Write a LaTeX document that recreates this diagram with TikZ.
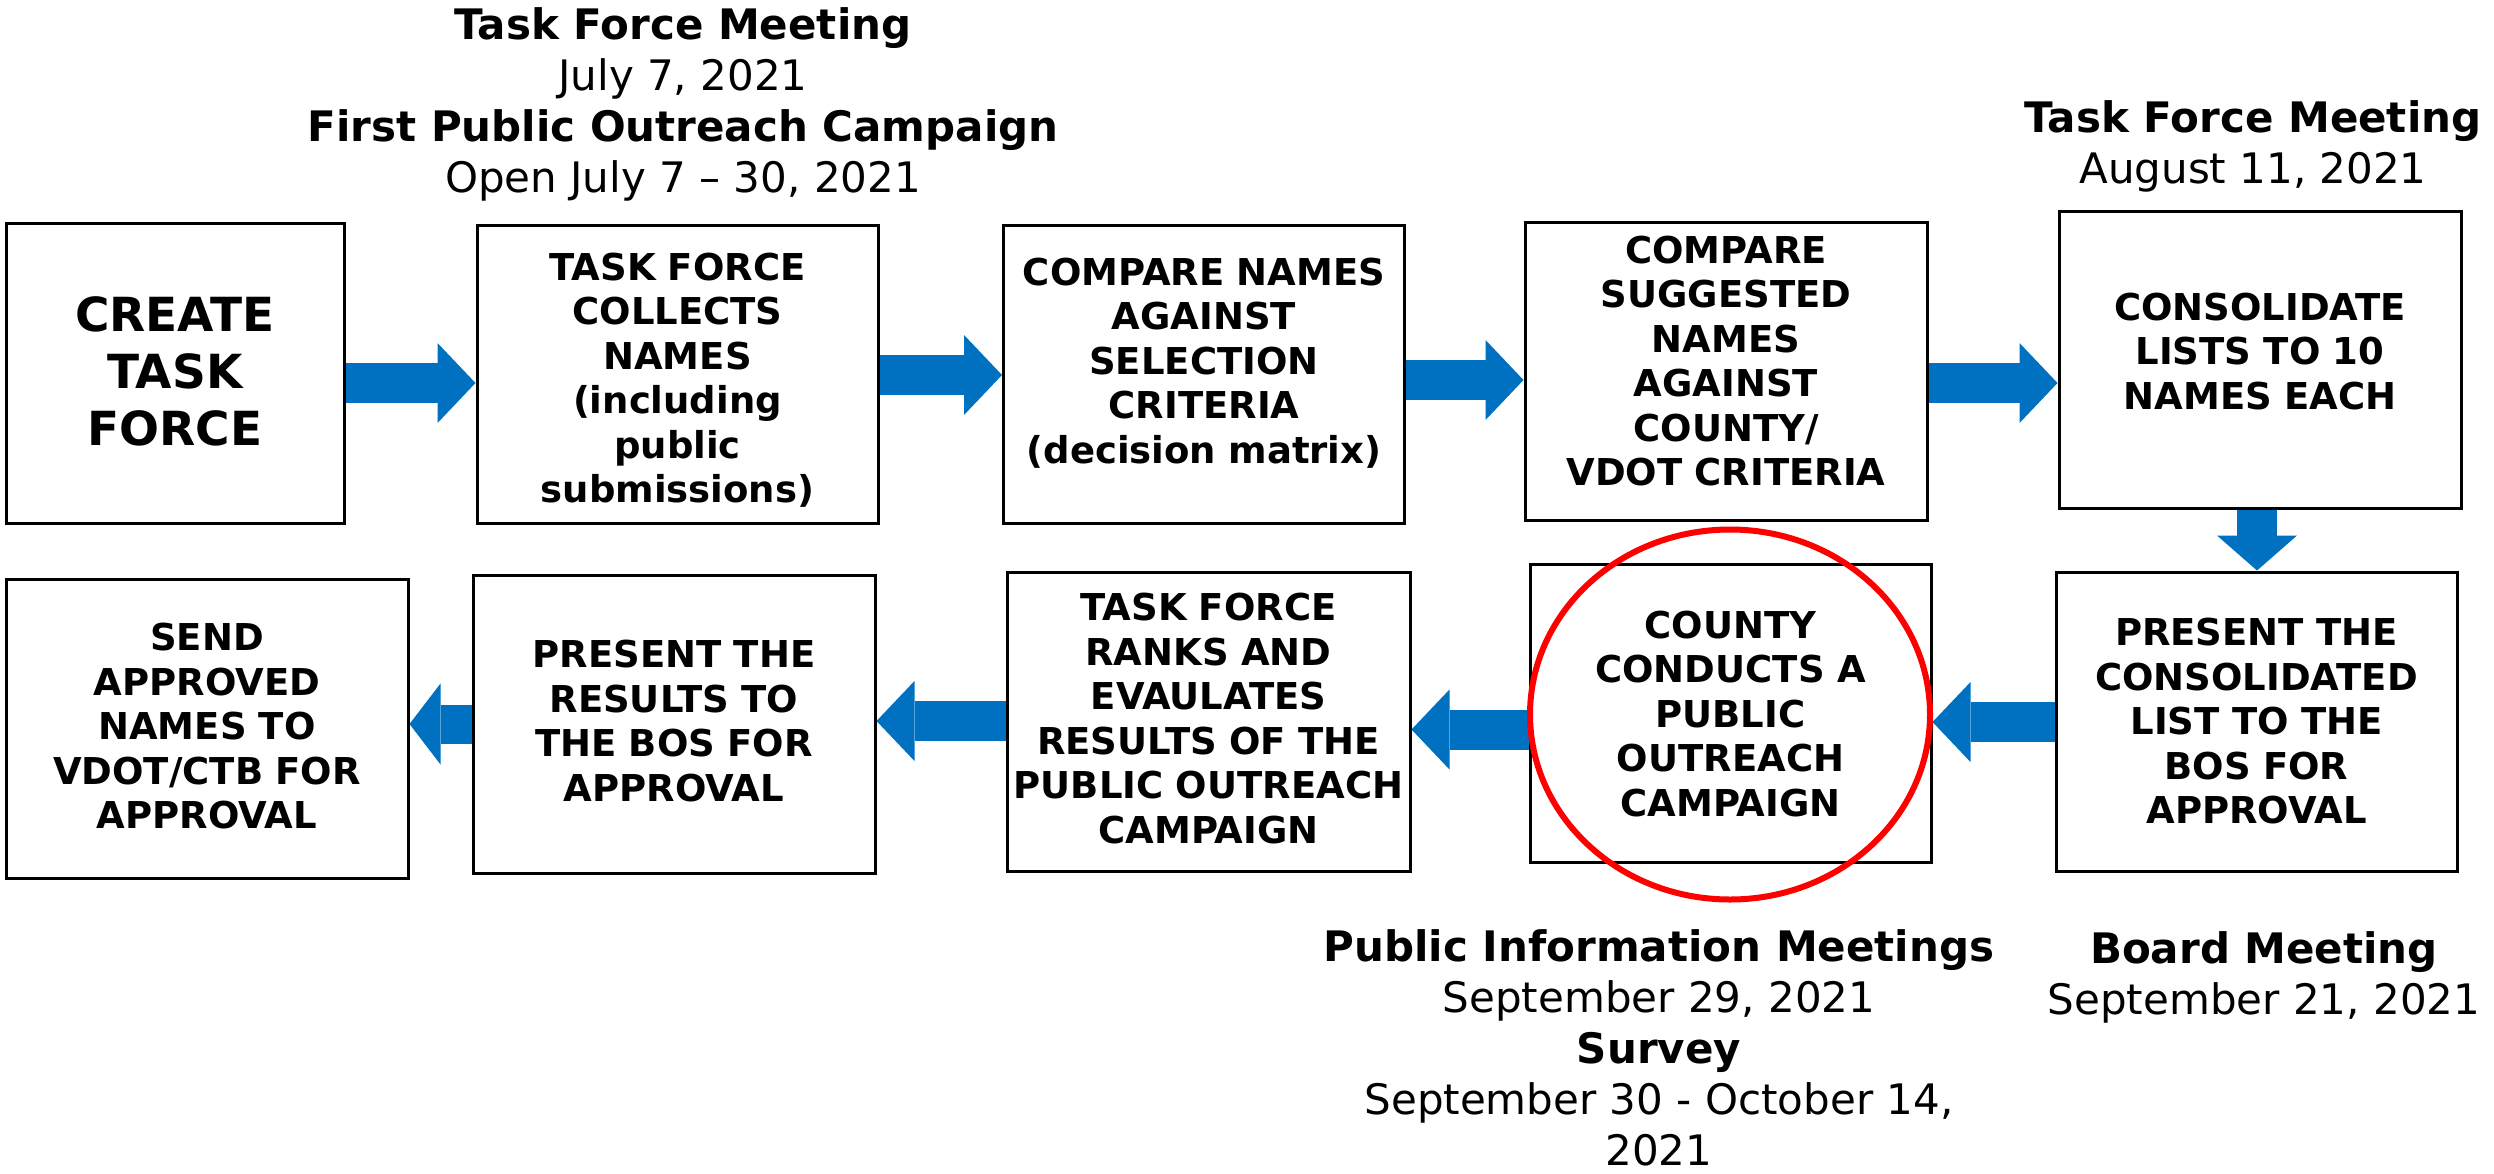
\documentclass[tikz,border=0pt]{standalone}
\usepackage{fontspec}
\setmainfont{DejaVu Sans}
\usetikzlibrary{arrows.meta,calc}
\definecolor{flowblue}{HTML}{0070C0}
\definecolor{hlred}{HTML}{FF0000}
\begin{document}
\begin{tikzpicture}[x=1pt,y=-1pt,
  box/.style={draw=black, line width=3pt, fill=white, inner sep=0pt,
    minimum width=401pt, minimum height=298pt},
  boxtext/.style={inner sep=0pt, text width=396pt, align=center,
    font={\fontsize{37}{44.5}\selectfont\bfseries}},
  bigtext/.style={inner sep=0pt, text width=320pt, align=center,
    font={\fontsize{47}{57}\selectfont\bfseries}},
  note/.style={align=center, inner sep=0pt, anchor=north,
    font={\fontsize{42}{51}\selectfont}},
  flow/.style={draw=flowblue, line width=40pt,
    -{Triangle[length=38pt, width=80pt, line width=0pt]}},
  shortflow/.style={draw=flowblue, line width=39pt,
    -{Triangle[length=31pt, width=81pt, line width=0pt]}},
  downflow/.style={draw=flowblue, line width=40pt,
    -{Triangle[length=35pt, width=80pt, line width=0pt]}}
]
\useasboundingbox (0,0) rectangle (2494,1173);

% top row
\node[box, minimum width=338pt, minimum height=300pt,
  label={[bigtext, yshift=2pt]center:{CREATE\\TASK\\FORCE}}] (b1) at (175,373) {};
\node[box,
  label={[boxtext, yshift=-6pt]center:{TASK FORCE\\COLLECTS\\NAMES\\(including\\public\\submissions)}}] (b2) at (677.5,374) {};
\node[box,
  label={[boxtext, yshift=11pt]center:{COMPARE NAMES\\AGAINST\\SELECTION\\CRITERIA\\(decision matrix)}}] (b3) at (1204,374) {};
\node[box, minimum width=402pt,
  label={[boxtext, yshift=10pt]center:{COMPARE\\SUGGESTED\\NAMES\\AGAINST\\COUNTY/\\VDOT CRITERIA}}] (b4) at (1726,371) {};
\node[box, minimum width=402pt, minimum height=297pt,
  label={[boxtext, yshift=8pt]center:{CONSOLIDATE\\LISTS TO 10\\NAMES EACH}}] (b5) at (2260,359.5) {};

% bottom row
\node[box, minimum width=402pt, minimum height=299pt,
  label={[boxtext, yshift=2pt]center:{SEND\\APPROVED\\NAMES TO\\VDOT/CTB FOR\\APPROVAL}}] (b6) at (207,728.5) {};
\node[box, minimum width=402pt,
  label={[boxtext, yshift=3pt]center:{PRESENT THE\\RESULTS TO\\THE BOS FOR\\APPROVAL}}] (b7) at (674,724) {};
\node[box, minimum width=403pt, minimum height=299pt,
  label={[boxtext, yshift=3pt]center:{TASK FORCE\\RANKS AND\\EVAULATES\\RESULTS OF THE\\PUBLIC OUTREACH\\CAMPAIGN}}] (b8) at (1208.5,721.5) {};
\node[box,
  label={[boxtext, yshift=-1pt]center:{COUNTY\\CONDUCTS A\\PUBLIC\\OUTREACH\\CAMPAIGN}}] (b9) at (1730.5,713) {};
\node[box, minimum height=299pt,
  label={[boxtext]center:{PRESENT THE\\CONSOLIDATED\\LIST TO THE\\BOS FOR\\APPROVAL}}] (b10) at (2256.5,721.5) {};

% annotations
\node[note] (n1) at (683,7) {\textbf{Task Force Meeting}\\July 7, 2021\\\textbf{First Public Outreach Campaign}\\Open July 7 – 30, 2021};
\node[note] (n2) at (2253,100) {\textbf{Task Force Meeting}\\August 11, 2021};
\node[note] (n3) at (1659,929) {\textbf{Public Information Meetings}\\September 29, 2021\\\textbf{Survey}\\September 30 - October 14,\\2021};
\node[note] (n4) at (2264,931) {\textbf{Board Meeting}\\September 21, 2021};

% connectors
\draw[flow] (b1.east |- 0,383) -- (b2.west |- 0,383);
\draw[flow] (b2.east |- 0,375) -- (b3.west |- 0,375);
\draw[flow] (b3.east |- 0,380) -- (b4.west |- 0,380);
\draw[flow] (b4.east |- 0,383) -- (b5.west |- 0,383);
\draw[downflow] (b5.south -| 2257,0) -- (b10.north -| 2257,0);
\draw[flow] (b10.west |- 0,722) -- (b9.east |- 0,722);
\draw[flow] (b9.west |- 0,729.5) -- (b8.east |- 0,729.5);
\draw[flow] (b8.west |- 0,721) -- (b7.east |- 0,721);
\draw[shortflow] (b7.west |- 0,724) -- (b6.east |- 0,724);

% highlight
\draw[hlred, line width=6pt] (1730,714.5) ellipse [x radius=200pt, y radius=185pt];
\end{tikzpicture}
\end{document}
